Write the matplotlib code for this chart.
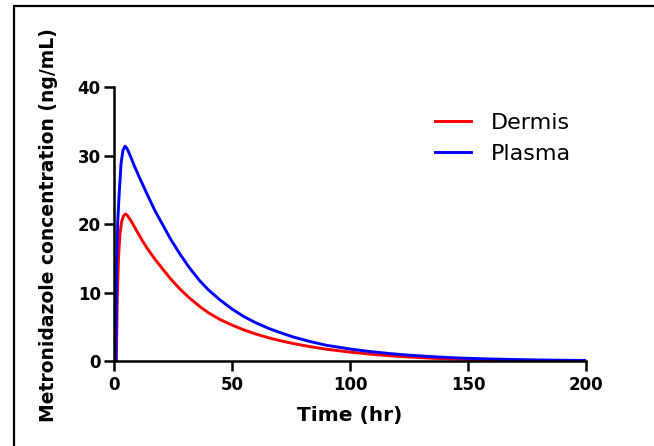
import matplotlib
matplotlib.use("Agg")
import matplotlib.pyplot as plt
from matplotlib.patches import Rectangle

# Data
time_plasma = [0, 0.8, 1.1, 1.6, 2.2, 3.0, 3.8, 4.7, 5.6, 7, 8.5, 10.3, 12, 14, 17.3, 20.5,
               24, 28, 32, 36.4, 40, 45, 50, 55, 60, 66, 70, 76, 83, 90, 100, 108, 117,
               125, 134, 142, 150, 160, 170, 180, 190, 200]
plasma = [0, 0, 14, 20.5, 24.5, 28.9, 30.8, 31.4, 31.0, 29.9, 28.6, 27.2, 25.9, 24.4, 22.0, 20.0,
          17.8, 15.6, 13.6, 11.7, 10.4, 8.9, 7.6, 6.5, 5.6, 4.7, 4.2, 3.5, 2.85, 2.3, 1.75, 1.4, 1.08,
          0.85, 0.65, 0.5, 0.39, 0.29, 0.21, 0.15, 0.11, 0.08]

time_dermis = [0, 1.0, 1.4, 1.9, 2.5, 3.2, 4.0, 4.9, 5.8, 7, 8.5, 10.3, 12, 14, 17.3, 20.5,
               24, 28, 32, 36.4, 40, 45, 50, 55, 60, 66, 70, 76, 83, 90, 100, 108, 117,
               125, 134, 142, 150, 160, 170, 180, 190, 200]
dermis = [0, 0, 9.4, 15.0, 18.5, 20.3, 21.2, 21.5, 21.2, 20.6, 19.7, 18.6, 17.6, 16.5, 14.9, 13.5,
          12.0, 10.5, 9.2, 7.95, 7.05, 6.05, 5.25, 4.55, 3.95, 3.35, 3.0, 2.55, 2.1, 1.72, 1.3, 1.02,
          0.76, 0.58, 0.42, 0.31, 0.23, 0.16, 0.11, 0.075, 0.05, 0.035]

series_labels = ["Dermis", "Plasma"]
x_ticks = [0, 50, 100, 150, 200]
y_ticks = [0, 10, 20, 30, 40]

W, H = 654, 446
fig = plt.figure(figsize=(W / 100, H / 100), dpi=100)
ax = fig.add_axes([114 / W, (H - 361) / H, (586 - 114) / W, (361 - 87.3) / H])

ax.plot(time_dermis, dermis, color="#ff0000", lw=2.1, label=series_labels[0])
ax.plot(time_plasma, plasma, color="#0000ff", lw=2.1, label=series_labels[1])

ax.set_xlim(0, 200)
ax.set_ylim(0, 40)
ax.set_xticks(x_ticks)
ax.set_yticks(y_ticks)
for s in ["top", "right"]:
    ax.spines[s].set_visible(False)
for s in ["left", "bottom"]:
    ax.spines[s].set_linewidth(1.8)
    ax.spines[s].set_color("black")
ax.tick_params(axis="both", direction="out", length=7, width=1.8, colors="black",
               labelsize=12)
ax.tick_params(axis="x", pad=4)
ax.tick_params(axis="y", pad=2.5)
for lbl in ax.get_xticklabels() + ax.get_yticklabels():
    lbl.set_fontweight("bold")

fig.text(350 / W, 1 - 415 / H, "Time (hr)", ha="center", va="center",
         fontsize=14.5, fontweight="bold")
fig.text(49 / W, 1 - 225 / H, "Metronidazole concentration (ng/mL)", ha="center",
         va="center", rotation=90, fontsize=13.5, fontweight="bold")

leg = ax.legend(loc="upper left", bbox_to_anchor=((435 - 114) / 472, (361 - 113) / 273.7),
                frameon=False, fontsize=16, handlelength=1.6, handletextpad=0.9,
                labelspacing=0.48, borderpad=0, borderaxespad=0)

fig.add_artist(Rectangle((13.5 / W, -0.5), 2.0, 1.5 - 5.5 / H, transform=fig.transFigure,
                         fill=False, edgecolor="black", lw=1.6, clip_on=False))

fig.savefig("out.png", dpi=100)
